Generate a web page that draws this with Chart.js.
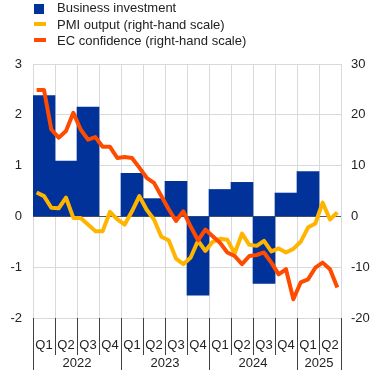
<!DOCTYPE html>
<html>
<head>
<meta charset="utf-8">
<script src="https://cdn.jsdelivr.net/npm/chart.js@4.4.0/dist/chart.umd.min.js"></script>
<style>
  html, body { margin: 0; padding: 0; background: #fff; }
  #wrap { position: relative; width: 372px; height: 370px; font-family: "Liberation Sans", Arial, sans-serif; }
  #legend { position: absolute; left: 34px; top: 0; font-size: 13px; color: #222; }
  .item { position: absolute; white-space: nowrap; height: 16px; line-height: 16px; }
  .sw { position: absolute; left: 0; }
  .txt { position: absolute; left: 23px; top: 0; }
</style>
</head>
<body>
<div id="wrap">
  <canvas id="chart" width="372" height="370"></canvas>
  <div id="legend"></div>
</div>
<script>
const quarters = ['Q1','Q2','Q3','Q4','Q1','Q2','Q3','Q4','Q1','Q2','Q3','Q4','Q1','Q2'];
const years = ['2022', '2023', '2024', '2025'];
const yearSpans = [4, 4, 4, 2];
const months = [
  '2022-01','2022-02','2022-03','2022-04','2022-05','2022-06','2022-07','2022-08','2022-09','2022-10','2022-11','2022-12',
  '2023-01','2023-02','2023-03','2023-04','2023-05','2023-06','2023-07','2023-08','2023-09','2023-10','2023-11','2023-12',
  '2024-01','2024-02','2024-03','2024-04','2024-05','2024-06','2024-07','2024-08','2024-09','2024-10','2024-11','2024-12',
  '2025-01','2025-02','2025-03','2025-04','2025-05','2025-06'
];

// business investment, quarter-on-quarter (left axis)
const investment = [2.38, 1.09, 2.15, null, 0.85, 0.35, 0.69, -1.55, 0.53, 0.67, -1.32, 0.46, 0.88, null];

// monthly, right-hand scale
const pmiOutput = [4.7, 4.0, 1.7, 1.6, 3.7, -0.3, -0.3, -1.6, -2.9, -2.9, 0.9, -0.6,
  -1.6, 1.0, 4.0, 1.3, -0.6, -4.0, -4.7, -8.3, -9.4, -8.1, -4.8, -6.8,
  -5.0, -4.4, -4.6, -7.3, -3.4, -5.6, -5.8, -4.8, -6.9, -6.3, -7.1, -6.4,
  -5.0, -2.2, -1.4, 2.7, -0.6, 0.8];
const ecConfidence = [24.9, 24.9, 17.1, 15.5, 16.8, 20.4, 17.1, 15.1, 15.6, 13.7, 13.7, 11.5,
  11.7, 11.5, 9.6, 7.6, 6.6, 4.0, 1.4, -0.9, 1.0, -2.0, -4.7, -2.6,
  -3.9, -5.2, -7.1, -7.8, -9.4, -7.8, -7.6, -7.1, -9.1, -11.4, -10.4, -16.3,
  -13.0, -12.4, -10.1, -9.1, -10.4, -14.0];

const leftTicks = [-2, -1, 0, 1, 2, 3];
const rightTicks = [-20, -10, 0, 10, 20, 30];

const BLUE = '#003299', YELLOW = '#FFB400', ORANGE = '#FF4B00';
const FONT = { family: '"Liberation Sans", Arial, sans-serif', size: 13 };

// legend
const legendItems = [
  { label: 'Business investment', color: BLUE, box: true },
  { label: 'PMI output (right-hand scale)', color: YELLOW },
  { label: 'EC confidence (right-hand scale)', color: ORANGE }
];
const legend = document.getElementById('legend');
legendItems.forEach((it, i) => {
  const row = document.createElement('div');
  row.className = 'item';
  row.style.top = (i * 16.7) + 'px';
  const sw = document.createElement('div');
  sw.className = 'sw';
  sw.style.background = it.color;
  if (it.box) { sw.style.width = '10px'; sw.style.height = '10px'; sw.style.top = '4px'; }
  else { sw.style.width = '12px'; sw.style.height = '4px'; sw.style.top = '5px'; }
  const t = document.createElement('span');
  t.className = 'txt';
  t.textContent = it.label;
  row.appendChild(sw);
  row.appendChild(t);
  legend.appendChild(row);
});

// year labels and separators under the quarter axis
const yearAxisPlugin = {
  id: 'yearAxis',
  afterDraw(chart) {
    const { ctx, chartArea, scales } = chart;
    const x = scales.x;
    const half = (x.getPixelForValue(1) - x.getPixelForValue(0)) / 2;
    ctx.save();
    ctx.strokeStyle = '#404040';
    ctx.lineWidth = 1;
    // quarter separators
    for (let i = 0; i <= quarters.length; i++) {
      const px = Math.round(x.getPixelForValue(i) - half) + 0.5;
      ctx.beginPath();
      ctx.moveTo(px, chartArea.bottom);
      ctx.lineTo(px, chartArea.bottom + 37);
      ctx.stroke();
    }
    // year separators and labels
    ctx.fillStyle = '#222';
    ctx.font = FONT.size + 'px ' + FONT.family;
    ctx.textAlign = 'center';
    ctx.textBaseline = 'middle';
    let start = 0;
    years.forEach((y, k) => {
      const end = start + yearSpans[k];
      const x0 = x.getPixelForValue(start) - half;
      const x1 = x.getPixelForValue(end - 1) + half;
      [x0, x1].forEach(px => {
        const p = Math.round(px) + 0.5;
        ctx.beginPath();
        ctx.moveTo(p, chartArea.bottom);
        ctx.lineTo(p, chart.height);
        ctx.stroke();
      });
      ctx.fillText(y, (x0 + x1) / 2, chartArea.bottom + 45);
      start = end;
    });
    ctx.restore();
  }
};

new Chart(document.getElementById('chart'), {
  type: 'bar',
  data: {
    labels: quarters,
    datasets: [
      {
        type: 'bar', label: 'Business investment', data: investment,
        backgroundColor: BLUE, borderWidth: 0, grouped: false,
        barPercentage: 1.0, categoryPercentage: 1.0,
        xAxisID: 'x', yAxisID: 'y', order: 3
      },
      {
        type: 'line', label: 'PMI output (right-hand scale)',
        data: pmiOutput.map((v, i) => ({ x: months[i], y: v })),
        borderColor: YELLOW, borderWidth: 4, pointRadius: 0, tension: 0,
        borderJoinStyle: 'round', xAxisID: 'xm', yAxisID: 'y2', order: 2
      },
      {
        type: 'line', label: 'EC confidence (right-hand scale)',
        data: ecConfidence.map((v, i) => ({ x: months[i], y: v })),
        borderColor: ORANGE, borderWidth: 4, pointRadius: 0, tension: 0,
        borderJoinStyle: 'round', xAxisID: 'xm', yAxisID: 'y2', order: 1
      }
    ]
  },
  options: {
    responsive: false,
    animation: false,
    devicePixelRatio: 1,
    layout: { padding: { top: 64, left: 0, right: 0, bottom: 0 } },
    plugins: { legend: { display: false }, tooltip: { enabled: false } },
    scales: {
      x: {
        type: 'category', position: 'bottom', offset: true,
        grid: { offset: true, color: '#d9d9d9', lineWidth: 1, drawTicks: false },
        border: { display: false },
        ticks: { color: '#222', font: FONT, padding: 20, maxRotation: 0, autoSkip: false },
        afterFit(s) { s.height = 52; }
      },
      xm: {
        type: 'category', labels: months, display: false, offset: true
      },
      y: {
        position: 'left', min: -2, max: 3,
        afterBuildTicks(s) { s.ticks = leftTicks.map(v => ({ value: v })); },
        grid: {
          color: ctx => ctx.tick && ctx.tick.value === 0 ? '#595959' : '#d9d9d9',
          drawTicks: false
        },
        border: { display: false },
        ticks: { color: '#222', font: FONT, padding: 11 },
        afterFit(s) { s.width = 33; }
      },
      y2: {
        position: 'right', min: -20, max: 30,
        afterBuildTicks(s) { s.ticks = rightTicks.map(v => ({ value: v })); },
        grid: { display: false, drawTicks: false },
        border: { display: false },
        ticks: { color: '#222', font: FONT, padding: 10 },
        afterFit(s) { s.width = 31; }
      }
    }
  },
  plugins: [yearAxisPlugin]
});
</script>
</body>
</html>
